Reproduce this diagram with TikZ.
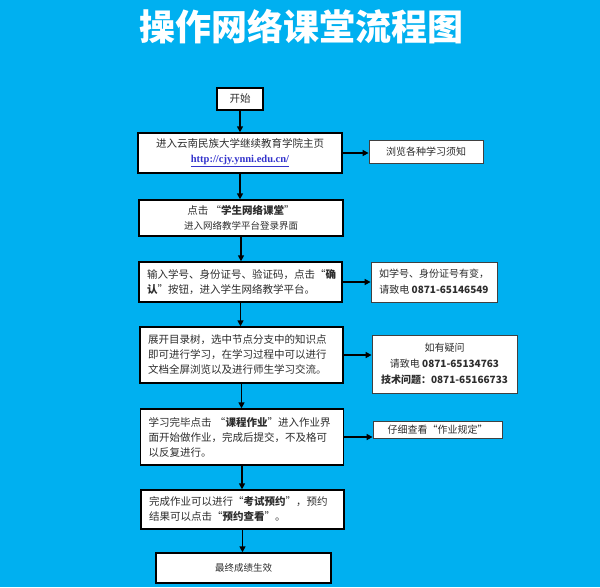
\documentclass[tikz,border=0pt]{standalone}
\usepackage{fontspec}
\setmainfont{Noto Sans CJK SC}
\newfontfamily\urlfont{Liberation Serif}
\usetikzlibrary{arrows.meta,positioning}
\definecolor{sky}{RGB}{0,176,240}
\definecolor{ink}{RGB}{45,45,45}
\definecolor{link}{RGB}{51,51,204}

\begin{document}
\begin{tikzpicture}[x=1pt,y=-1pt,
  box/.style={draw=black,line width=1.4pt,fill=white,text=ink,inner sep=0pt,font=\fontsize{10.5}{15}\selectfont},
  lbox/.style={box,align=left,inner xsep=8pt,text width=187pt},
  cbox/.style={box,align=center},
  note/.style={draw=black!75,line width=0.8pt,fill=white,text=ink,align=center,inner sep=0pt,font=\fontsize{10}{16}\selectfont},
  sz/.style 2 args={minimum width=#1,minimum height=#2},
  arr/.style={line width=1.8pt,-{Triangle[length=6pt,width=6pt]}}]
  \fill[sky] (0,0) rectangle (600,587);
  \node[text=white,font=\fontsize{36}{36}\selectfont\bfseries] (title) at (301,27) {操作网络课堂流程图};

  \node[cbox,sz={46pt}{22pt}] (start) at (240,99) {开始};
  \node[cbox,sz={204pt}{40pt}] (home) at (240,153) {进入云南民族大学继续教育学院主页\\{\urlfont\bfseries\fontsize{10.5}{15}\selectfont\color{link}\underline{http://cjy.ynni.edu.cn/}}};
  \node[cbox,sz={204pt}{36pt}] (enter) at (241,218) {点击~“\textbf{学生网络课堂}”\\{\fontsize{9.5}{14}\selectfont 进入网络教学平台登录界面}};
  \node[lbox,minimum height=40pt] (login) at (240.5,282) {输入学号、身份证号、验证码，点击“\textbf{确}\\\textbf{认}”按钮，进入学生网络教学平台。};
  \node[lbox,minimum height=56pt] (study) at (241.5,355) {展开目录树，选中节点分支中的知识点\\即可进行学习，在学习过程中可以进行\\文档全屏浏览以及进行师生学习交流。};
  \node[lbox,minimum height=56pt] (work) at (242,437) {学习完毕点击~“\textbf{课程作业}”进入作业界\\面开始做作业，完成后提交，不及格可\\以反复进行。};
  \node[lbox,minimum height=39pt] (exam) at (242.5,509.5) {完成作业可以进行“\textbf{考试预约}”，预约\\结果可以点击“\textbf{预约查看}”。};
  \node[cbox,sz={175pt}{30pt},font=\fontsize{9.5}{14}\selectfont] (final) at (243.5,568) {最终成绩生效};

  \node[note,sz={114pt}{23pt}] (rules) at (426,151.5) {浏览各种学习须知};
  \node[note,sz={126pt}{40pt}] (change) at (434,282) {如学号、身份证号有变，\\请致电 \textbf{0871-65146549}};
  \node[note,sz={145pt}{58pt}] (help) at (444.5,364) {如有疑问\\请致电 \textbf{0871-65134763}\\\textbf{技术问题：0871-65166733}};
  \node[note,sz={129pt}{17pt}] (norm) at (437.5,430) {仔细查看“作业规定”};

  \foreach \a/\b in {start/home,home/enter,enter/login,login/study,study/work,work/exam,exam/final}
    \draw[arr] (\a.south) -- (\a.south |- \b.north);
  \foreach \a/\b in {home/rules,login/change,study/help,work/norm}
    \draw[arr] (\a.east) -- (\a.east -| \b.west);
\end{tikzpicture}
\end{document}
